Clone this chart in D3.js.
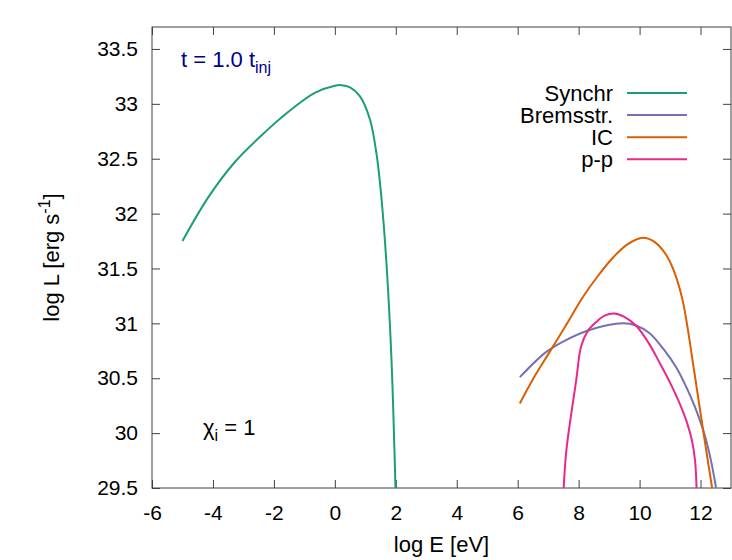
<!DOCTYPE html>
<html>
<head>
<meta charset="utf-8">
<script src="https://cdn.jsdelivr.net/npm/d3@7"></script>
<style>
  body { margin: 0; background: white; }
  svg { font-family: "Liberation Sans", Arial, sans-serif; }
</style>
</head>
<body>
<div id="chart-area"></div>
<script>
// values (log E [eV], log L [erg/s])
var synchrX = [-5, -4.15, -3.28, -2.3, -1.42, -0.66, 0, 0.22, 0.5, 0.82, 1.15, 1.37, 1.53, 1.7, 1.86, 1.99];
var synchrY = [31.75, 32.15, 32.47, 32.74, 32.95, 33.1, 33.165, 33.17, 33.15, 33.07, 32.86, 32.54, 32.14, 31.52, 30.66, 29.5];

var bremsX = [6.07, 6.94, 7.6, 8.36, 9.45, 9.88, 10.33, 10.8, 11.2, 11.5, 11.8, 12.0, 12.16, 12.35, 12.51];
var bremsY = [30.51, 30.74, 30.85, 30.94, 31.0, 30.98, 30.91, 30.76, 30.6, 30.44, 30.25, 30.1, 29.96, 29.74, 29.5];

var icX = [6.07, 6.5, 7.05, 7.6, 8.14, 8.6, 9.13, 9.6, 10.11, 10.5, 10.88, 11.15, 11.42, 11.8, 12.1, 12.38];
var icY = [30.27, 30.49, 30.74, 30.99, 31.24, 31.42, 31.6, 31.72, 31.78, 31.74, 31.62, 31.46, 31.2, 30.55, 30.0, 29.5];

var ppX = [7.51, 7.6, 7.92, 8.08, 8.3, 8.57, 8.85, 9.17, 9.5, 9.88, 10.3, 10.66, 11.0, 11.3, 11.55, 11.72, 11.82, 11.87];
var ppY = [29.5, 29.85, 30.48, 30.79, 30.93, 31.01, 31.07, 31.09, 31.06, 30.98, 30.82, 30.64, 30.46, 30.28, 30.1, 29.93, 29.75, 29.5];

var seriesNames = ["Synchr", "Bremsstr.", "IC", "p-p"];
var seriesColors = ["#1b9e77", "#7570b3", "#d95f02", "#e7298a"];

var xTicks = [-6, -4, -2, 0, 2, 4, 6, 8, 10, 12];
var yTicks = [29.5, 30, 30.5, 31, 31.5, 32, 32.5, 33, 33.5];

var width = 732, height = 560;
var margin = {top: 27, right: 1, bottom: 72, left: 152};
var w = width - margin.left - margin.right;
var h = height - margin.top - margin.bottom;

var svg = d3.select("#chart-area").append("svg")
  .attr("width", width)
  .attr("height", height);

var g = svg.append("g")
  .attr("transform", "translate(" + margin.left + "," + margin.top + ")");

var x = d3.scaleLinear().domain([-6, 13]).range([0, w]);
var y = d3.scaleLinear().domain([29.5, 33.7]).range([h, 0]);

g.append("clipPath").attr("id", "clip")
  .append("rect").attr("width", w).attr("height", h);

// axes, ticks pointing inward like gnuplot
var bottomAxis = d3.axisBottom(x).tickValues(xTicks).tickSize(-8).tickPadding(17)
  .tickFormat(function(d) { return String(d); });
var topAxis = d3.axisTop(x).tickValues(xTicks).tickSize(-8).tickFormat("");
var leftAxis = d3.axisLeft(y).tickValues(yTicks).tickSize(-8).tickPadding(14)
  .tickFormat(function(d) { return String(d); });
var rightAxis = d3.axisRight(y).tickValues(yTicks).tickSize(-8).tickFormat("");

g.append("g").attr("transform", "translate(0," + h + ")").call(bottomAxis);
g.append("g").call(topAxis);
g.append("g").call(leftAxis);
g.append("g").attr("transform", "translate(" + w + ",0)").call(rightAxis);

g.selectAll(".domain").remove();
g.selectAll(".tick line").attr("stroke", "#404040");
g.selectAll(".tick text")
  .attr("font-size", "21px")
  .attr("font-family", "Liberation Sans, Arial, sans-serif")
  .attr("fill", "black");

g.append("rect")
  .attr("width", w).attr("height", h)
  .attr("fill", "none")
  .attr("stroke", "#404040")
  .attr("stroke-width", 1);

// curves
var allX = [synchrX, bremsX, icX, ppX];
var allY = [synchrY, bremsY, icY, ppY];

var line = d3.line()
  .x(function(d) { return x(d[0]); })
  .y(function(d) { return y(d[1]); })
  .curve(d3.curveCatmullRom.alpha(0.5));

var curves = g.append("g").attr("clip-path", "url(#clip)");
allX.forEach(function(xs, i) {
  var pts = xs.map(function(v, j) { return [v, allY[i][j]]; });
  curves.append("path")
    .datum(pts)
    .attr("d", line)
    .attr("fill", "none")
    .attr("stroke", seriesColors[i])
    .attr("stroke-width", 2);
});

// legend
var legend = svg.append("g");
seriesNames.forEach(function(name, i) {
  var ly = 93 + i * 22.1;
  legend.append("text")
    .attr("x", 613)
    .attr("y", ly + 7.5)
    .attr("text-anchor", "end")
    .attr("font-size", "22px")
    .text(name);
  legend.append("line")
    .attr("x1", 627).attr("x2", 687)
    .attr("y1", ly).attr("y2", ly)
    .attr("stroke", seriesColors[i])
    .attr("stroke-width", 2);
});

// annotations
var title = svg.append("text")
  .attr("x", 181)
  .attr("y", 67)
  .attr("font-size", "22px")
  .attr("fill", "#00008b");
title.append("tspan").text("t = 1.0 t");
title.append("tspan").attr("font-size", "16px").attr("dy", 6).text("inj");

var chi = svg.append("text")
  .attr("x", 203)
  .attr("y", 435)
  .attr("font-size", "22px")
  .attr("fill", "black");
chi.append("tspan").text("\u03c7");
chi.append("tspan").attr("font-size", "16px").attr("dy", 6).text("i");
chi.append("tspan").attr("dy", -6).text(" = 1");

// axis titles
svg.append("text")
  .attr("x", margin.left + w / 2)
  .attr("y", 552)
  .attr("text-anchor", "middle")
  .attr("font-size", "22px")
  .text("log E [eV]");

var yl = svg.append("text")
  .attr("transform", "translate(59," + (margin.top + h / 2) + ") rotate(-90)")
  .attr("text-anchor", "middle")
  .attr("font-size", "22px");
yl.append("tspan").text("log L [erg s");
yl.append("tspan").attr("font-size", "16px").attr("dy", -9).text("-1");
yl.append("tspan").attr("dy", 9).text("]");
</script>
</body>
</html>
